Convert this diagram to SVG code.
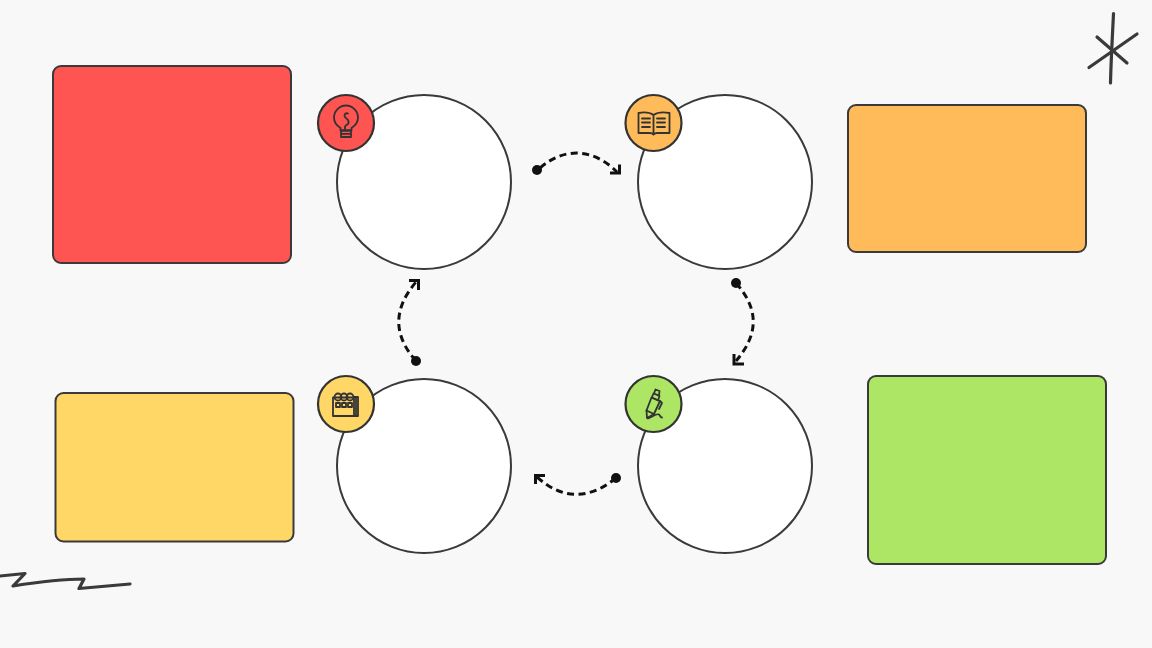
<svg xmlns="http://www.w3.org/2000/svg" width="1152" height="648" viewBox="0 0 1152 648">
<style>
.card{stroke:#3a3a3a;stroke-width:2}
.big{fill:#fff;stroke:#3a3a3a;stroke-width:2}
.badge{stroke:#333;stroke-width:2.200}
.ic{fill:none;stroke:#333;stroke-width:1.800;stroke-linecap:round;stroke-linejoin:round}
.dash{fill:none;stroke:#111;stroke-width:3;stroke-dasharray:7 4.500}
.head{fill:none;stroke:#111;stroke-width:3}
.dot{fill:#111}
.doodle{fill:none;stroke:#3a3a3a;stroke-width:3.200;stroke-linecap:round;stroke-linejoin:round}
</style>
<rect width="1152" height="648" fill="#f8f8f8"/>
<g id="card-red"><rect class="card" x="53" y="66" width="238" height="197" rx="8" fill="#ff5552"/></g>
<g id="card-orange"><rect class="card" x="848" y="105" width="238" height="147" rx="8" fill="#ffbb5a"/></g>
<g id="card-yellow"><rect class="card" x="55.500" y="393" width="238" height="148.500" rx="8" fill="#ffd766"/></g>
<g id="card-green"><rect class="card" x="868" y="376" width="238" height="188" rx="8" fill="#ade665"/></g>
<g id="node-idea">
<circle class="big" cx="424" cy="182" r="87"/>
<circle class="badge" cx="346" cy="123" r="28" fill="#ff5552"/>
<g class="ic"><path d="M340.500 128C336.500 125.500 334 121.500 334 117.500C334 111 339.500 105.500 346 105.500C352.500 105.500 358 111 358 117.500C358 121.500 355.500 125.500 351.500 128V130.500H340.500Z"/><path d="M341 130.500H351V137H341ZM341 133.800H351"/><path d="M348 113.500C345.500 112.500 343.500 115 345 117C346.500 119 349.500 120 348.500 123C348 125 345.500 125 345 126.500V129"/></g>
</g>
<g id="node-book">
<circle class="big" cx="725" cy="182" r="87"/>
<circle class="badge" cx="653.500" cy="123" r="28" fill="#ffbb5a"/>
<g class="ic"><path d="M653.500 115C650 112.500 644 112 638.500 113V133H650C651.500 133 652.500 133.500 653.500 134.500C654.500 133.500 655.500 133 657 133H669.500V113C664 112 657 112.500 653.500 115V134"/><path d="M642 118.500H650M642 122.500H650M642 127H650M657 118.500H665M657 122.500H665M657 127H665"/></g>
</g>
<g id="node-calendar">
<circle class="big" cx="424" cy="466" r="87"/>
<circle class="badge" cx="346" cy="404" r="28" fill="#ffd766"/>
<g class="ic"><rect x="333" y="397.500" width="21" height="18.500"/><path d="M354 397H358V416H354M356 397V416"/><circle cx="338" cy="397" r="3.500"/><circle cx="344" cy="397" r="3.500"/><circle cx="350" cy="397" r="3.500"/><rect x="336" y="403" width="4" height="4"/><rect x="342" y="403" width="4" height="4"/><rect x="348" y="403" width="4" height="4"/></g>
</g>
<g id="node-pen">
<circle class="big" cx="725" cy="466" r="87"/>
<circle class="badge" cx="653.500" cy="404" r="28" fill="#ade665"/>
<g class="ic"><path d="M651.500 397.500L660 401L654 414L646.500 410.500Z"/><path d="M653.500 393.500L659.500 396L658 400.500L651.800 397.500ZM655.500 389.500L659.500 391L659 395.500L654 393.500Z"/><path d="M646.500 410.500L647 418L654 414"/><path d="M660 401L662 403L659 409"/><path d="M648 418.500C652 417 657 413 659 414.500C660.500 415.500 660 417.500 662 417.500"/></g>
</g>
<g id="connectors">
<path class="dash" d="M540 168C564 147 593 148 617 172"/><path class="head" d="M619.500 164.500V173H610"/><circle class="dot" cx="537" cy="170" r="5"/>
<path class="dash" d="M736 283C759 309 759 334 736 361"/><path class="head" d="M734 354V364H744"/><circle class="dot" cx="736" cy="283" r="5"/>
<path class="dash" d="M616 478C589 500 562 500 537 477"/><path class="head" d="M535.500 484V475.500H545"/><circle class="dot" cx="616" cy="478" r="5"/>
<path class="dash" d="M416 361C393 335 393 309 416 282"/><path class="head" d="M409 280.500H418.500V290"/><circle class="dot" cx="416" cy="361" r="5"/>
</g>
<g id="doodles">
<path class="doodle" d="M1113.500 13.500C1112.500 35 1111 60 1110.500 83"/>
<path class="doodle" d="M1089 67.500L1137 34"/>
<path class="doodle" d="M1097 37L1127 63"/>
<path class="doodle" d="M0 576L25 573.500L13 586C38 582 62 579 84 579L79 588.500L130 584"/>
</g>
</svg>
